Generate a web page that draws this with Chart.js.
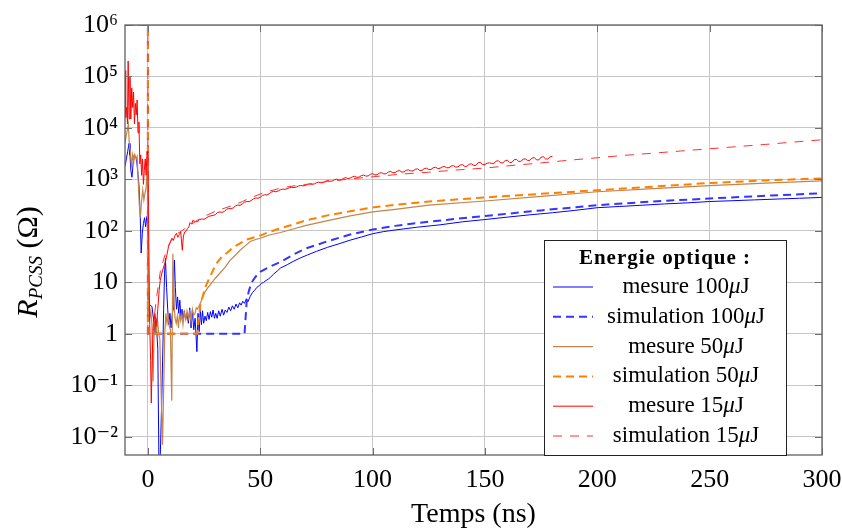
<!DOCTYPE html>
<html><head><meta charset="utf-8">
<script src="https://cdn.jsdelivr.net/npm/chart.js@4.4.1/dist/chart.umd.min.js"></script>
<style>html,body{margin:0;padding:0;background:#fff}#wrap{width:842px;height:530px}</style>
</head><body><div id="wrap"><canvas id="c" width="842" height="530"></canvas></div>
<script>
// ---------- data (time in ns, resistance in ohm) ----------
const xTickValues = [0, 50, 100, 150, 200, 250, 300];
const yTickValues = [1e-2, 1e-1, 1, 10, 100, 1e3, 1e4, 1e5, 1e6];
const yTickLabels = ['10\u207B\u00B2', '10\u207B\u00B9', '1', '10', '10\u00B2', '10\u00B3', '10\u2074', '10\u2075', '10\u2076'];
const legendTitle = 'Energie optique :';
const seriesLabels = ['mesure 100\u03BCJ', 'simulation 100\u03BCJ', 'mesure 50\u03BCJ', 'simulation 50\u03BCJ', 'mesure 15\u03BCJ', 'simulation 15\u03BCJ'];

const mesure100 = [[-10.2,1800],[-9.6,2500],[-9.0,3500],[-8.4,5000],[-8.0,3000],[-7.6,1500],[-7.1,1100],[-6.6,2000],[-6.1,3000],[-5.6,2700],[-5.1,2600],[-4.6,1500],[-4.0,800],[-3.4,180],[-3.0,37],[-2.5,90],[-2.0,140],[-1.5,180],[-1.0,120],[-0.5,190],[0.0,200],[0.3,3.6],[1.0,3.6],[1.8,3.4],[2.5,1.9],[3.1,1.0],[3.5,2.0],[4.0,1.0],[4.4,0.5],[4.9,0.003],[5.4,0.003],[6.2,0.06],[7.0,3],[7.4,15],[7.8,29],[8.3,8],[8.8,3],[9.3,1.5],[9.8,2.5],[10.3,1.3],[10.8,2.3],[11.2,3],[11.5,12],[11.8,27],[12.2,8],[12.7,3],[13.2,5.2],[13.7,2.5],[14.2,4.5],[14.7,2],[15.2,3],[15.7,1.8],[16.2,2.8],[16.8,1.9],[17.4,2.5],[18.0,1.6],[18.6,3.2],[19.2,1.3],[19.8,2.8],[20.4,1.2],[21.0,2.0],[21.8,0.45],[22.3,2.5],[22.8,1.1],[23.3,3.0],[23.8,1.5],[24.3,2.8],[24.8,1.6],[25.4,2.2],[26.0,1.8],[26.6,2.6],[27.2,1.9],[27.8,2.7],[28.4,2.1],[29.0,2.9],[29.6,2.0],[30.2,2.5],[30.8,2.0],[31.5,2.8],[32.2,2.2],[33.0,3.0],[33.7,2.3],[34.4,2.9],[35.2,2.6],[36.0,3.3],[36.8,2.8],[37.6,3.5],[38.4,3.0],[39.2,3.8],[40.0,3.2],[40.8,4.0],[41.5,3.6],[42.2,4.3],[43.0,3.9],[43.8,4.8],[44.5,4.2],[45.5,5.3],[46.5,6.3],[47.5,7.0],[48.5,8.0],[49.5,8.6],[50.5,9.5],[51.5,10],[52.5,10.8],[53.5,11.5],[54.5,12.5],[56,14.5],[57.5,16.5],[59,19],[62,22],[65,26],[68,30],[71,34],[75,40],[80,48],[85,56],[90,66],[95,76],[100,88],[105,97],[110,104],[120,118],[130,131],[140,150],[150,166],[160,185],[170,205],[180,225],[190,250],[200,282],[210,298],[220,315],[230,334],[240,350],[250,372],[260,385],[270,400],[280,415],[290,430],[300,447]];

const simulation100 = [[-10.2,1e6],[0,1e6],[0,1],[43,1],[44,4.5],[45,7],[46.3,10.2],[48,13],[50,16],[54,20],[59,25],[65,35],[70,45],[80,63],[90,85],[100,106],[110,125],[125,151],[150,195],[175,250],[200,316],[225,372],[250,427],[275,480],[300,537]];

const mesure50 = [[-10.2,5000],[-9.7,7000],[-9.2,9000],[-8.7,12000],[-8.2,4000],[-7.8,3600],[-7.3,1700],[-6.8,3000],[-6.3,2200],[-5.8,3000],[-5.3,2500],[-4.8,2800],[-4.3,900],[-3.8,300],[-3.3,190],[-2.8,400],[-2.3,620],[-1.8,400],[-1.3,540],[-0.8,700],[-0.3,1500],[0.0,1800],[0.3,3],[0.8,2],[1.3,2.8],[1.8,1.5],[2.3,0.12],[2.8,1.3],[3.3,2.2],[3.8,1.2],[4.3,1.8],[4.8,1.0],[5.3,0.8],[5.8,0.1],[6.5,0.007],[7.0,0.08],[7.5,1.0],[8.0,2.5],[8.5,1.6],[9.0,2.2],[9.5,1.4],[10.0,1.2],[10.6,0.05],[11.1,36],[11.6,4],[12.1,2],[12.6,1.6],[13.1,2.2],[13.6,1.3],[14.1,2.5],[14.6,1.8],[15.1,2.4],[15.6,1.5],[16.2,2.6],[16.8,1.9],[17.4,2.8],[18.0,2.0],[18.6,2.7],[19.2,1.7],[19.8,3.0],[20.4,2.3],[21.0,2.5],[21.5,3.2],[22.0,3.0],[23.3,3.9],[24.4,5.2],[25.5,6.6],[26.6,7.8],[27.7,8.9],[30,12],[32,15],[34.5,20],[36.6,27],[39,34],[41,42],[43,50],[45.5,62],[48,68],[50,72],[54,83],[59,93],[65,110],[70,126],[80,158],[90,195],[100,234],[110,262],[125,316],[150,380],[175,468],[200,575],[225,660],[250,760],[275,850],[300,933]];

const simulation50 = [[-10.2,1e6],[0,1e6],[0,1],[22,1],[23.3,3.6],[25.5,8],[28,14],[30.4,23],[33,32],[35.4,38],[38,48],[41,57],[44,68],[47.8,76],[50,81],[53.2,93],[59,112],[65,135],[70,158],[80,200],[90,240],[100,285],[110,320],[125,372],[150,447],[175,525],[200,617],[225,724],[250,851],[275,955],[300,1047]];

const mesure15 = [[-10.2,1.3e5],[-9.9,1.6e4],[-9.5,2.5e4],[-9.1,1.2e4],[-8.8,2.0e5],[-8.4,1.5e4],[-8.0,1.0e5],[-7.6,1.5e4],[-7.2,6e4],[-6.8,2.5e4],[-6.4,5e4],[-6.0,1.2e4],[-5.6,3e4],[-5.2,1.8e4],[-4.8,3.5e4],[-4.4,8e3],[-4.0,1.3e4],[-3.6,2e3],[-3.2,3e3],[-2.8,1.2e3],[-2.4,2.5e3],[-2.0,800],[-1.6,1.5e3],[-1.2,2.5e3],[-0.8,1.2e3],[-0.4,3.5e3],[0.0,2.5e3],[0.4,60],[0.8,1.5],[1.2,0.3],[1.5,0.045],[1.9,0.3],[2.3,1.2],[2.7,1.8],[3.1,2.5],[3.5,1.4],[3.9,1.6],[4.4,3],[5.0,7],[5.5,11],[6.2,15],[7.0,20],[7.7,24],[8.5,35],[9.2,50],[10.0,60],[10.7,72],[11.3,65],[12.0,80],[12.7,90],[13.3,75],[14.0,85],[14.6,95],[15.3,42],[15.8,80],[16.4,95],[17.0,100],[17.6,110],[18.2,120],[18.8,145],[19.5,135],
[20,160],[21,152],[22,150],[23,166],[24,170],[25,168],[26,178],[27,190],[28,196],[29,199],[30,207],[31,228],[32,233],[33,229],[34,238],[35,262],[36,272],[37,268],[38,281],[39,305],[40,318],[41,312],[42,333],[43,361],[44,372],[45,369],[46,391],[47,418],[48,437],[49,430],[50,452],[51,488],[52,503],[53,497],[54,528],[55,566],[56,588],[57,573],[58,598],[59,630],[60,648],[61,641],[62,662],[63,690],[64,703],[65,694],[66,712],[67,744],[68,762],[69,749],[70,758],[71,797],[72,818],[73,801],[74,817],[75,861],[76,884],[77,858],[78,866],[79,918],[80,952],[81,921],[82,928],[83,982],[84,1012],[85,970],[86,978],[87,1046],[88,1083],[89,1041],[90,1058],[91,1121],[92,1148],[93,1098],[94,1108],[95,1186],[96,1214],[97,1160],[98,1166],[99,1256],[100,1293],[101,1221],[102,1228],[103,1322],[104,1352],[105,1281],[106,1287],[107,1392],[108,1424],[109,1348],[110,1357],[111,1452],[112,1483],[113,1390],[114,1398],[115,1504],[116,1532],[117,1455],[118,1462],[119,1572],[120,1604],[121,1488],[122,1497],[123,1622],[124,1652],[125,1552],[126,1561],[127,1688],[128,1718],[129,1630],[130,1643],[131,1752],[132,1784],[133,1679],[134,1688],[135,1818],[136,1852],[137,1738],[138,1747],[139,1902],[140,1934],[141,1788],[142,1801],[143,1966],[144,2004],[145,1866],[146,1878],[147,2110],[148,2152],[149,1936],[150,1948],[151,2068],[152,2098],[153,2040],[154,2052],[155,2262],[156,2304],[157,2084],[158,2096],[159,2310],[160,2352],[161,2136],[162,2147],[163,2410],[164,2452],[165,2236],[166,2248],[167,2460],[168,2504],[169,2334],[170,2346],[171,2606],[172,2652],[173,2388],[174,2398],[175,2708],[176,2752],[177,2490],[178,2503],[179,2760],[180,2800]];

const simulation15 = [[-10.2,1e6],[0,1e6],[0,1],[2,1],[3,2.5],[4,5.6],[5.5,16],[7,28],[8.5,45],[10.7,72],[13,88],[15,100],[17.5,118],[20,140],[23,172],[26,200],[30,240],[34,275],[38,316],[42,370],[45,427],[49,500],[53,575],[59,676],[65,750],[70,794],[80,912],[90,1023],[100,1122],[112,1259],[125,1380],[137,1520],[150,1660],[162,1862],[175,2089],[187,2350],[200,2630],[212,2930],[225,3236],[237,3560],[250,3936],[262,4330],[275,4786],[287,5300],[300,5888]];

const seriesData = [mesure100, simulation100, mesure50, simulation50, mesure15, simulation15];

// ---------- styles ----------
const SERIF = '"Liberation Serif", "DejaVu Serif", "Times New Roman", serif';
const lineStyles = [
  {color:'#0000ff', width:1, dash:[]},
  {color:'#3535ff', width:2, dash:[8,5]},
  {color:'#c4844a', width:1.2, dash:[]},
  {color:'#ff8000', width:2, dash:[8,5]},
  {color:'#ff0000', width:1, dash:[]},
  {color:'#ff3030', width:1, dash:[9,8]}
];

const datasets = seriesData.map((s, i) => ({
  label: seriesLabels[i],
  data: s.map(p => ({x: p[0], y: p[1]})),
  borderColor: lineStyles[i].color,
  backgroundColor: lineStyles[i].color,
  borderWidth: lineStyles[i].width,
  borderDash: lineStyles[i].dash,
  pointRadius: 0,
  fill: false,
  tension: 0,
  order: seriesData.length - i
}));

function drawSegments(ctx, segs, x, y, align) {
  let total = 0;
  segs.forEach(s => { ctx.font = s.font; s.w = ctx.measureText(s.text).width; total += s.w; });
  let cx = align === 'center' ? x - total / 2 : x;
  segs.forEach(s => { ctx.font = s.font; ctx.fillText(s.text, cx, y + (s.dy || 0)); cx += s.w; });
}

const framePlugin = {
  id: 'frame',
  afterDatasetsDraw(chart) {
    const {ctx, chartArea: {left, right, top, bottom}, scales: {x, y}} = chart;
    ctx.save();
    ctx.strokeStyle = '#707070';
    ctx.lineWidth = 1;
    ctx.beginPath();
    y.ticks.forEach(t => {
      const py = Math.round(y.getPixelForValue(t.value)) + 0.5;
      ctx.moveTo(left, py); ctx.lineTo(left + 7, py);
      ctx.moveTo(right, py); ctx.lineTo(right - 7, py);
    });
    x.ticks.forEach(t => {
      const px = Math.round(x.getPixelForValue(t.value)) + 0.5;
      ctx.moveTo(px, bottom); ctx.lineTo(px, bottom - 7);
      ctx.moveTo(px, top); ctx.lineTo(px, top + 7);
    });
    ctx.stroke();
    ctx.strokeStyle = '#606060';
    ctx.lineWidth = 1.3;
    ctx.strokeRect(left, top, right - left, bottom - top);
    ctx.restore();
  }
};

const legendPlugin = {
  id: 'boxLegend',
  afterDraw(chart) {
    const {ctx, chartArea: {right, bottom}} = chart;
    const bw = 242, bh = 215;
    const bx = right - 278, by = bottom - bh;
    ctx.save();
    ctx.fillStyle = '#fff';
    ctx.fillRect(bx, by, bw, bh);
    ctx.strokeStyle = '#222';
    ctx.lineWidth = 1;
    ctx.strokeRect(bx + 0.5, by + 0.5, bw, bh);
    ctx.fillStyle = '#000';
    ctx.textBaseline = 'middle';
    ctx.font = 'bold 21px ' + SERIF;
    if ('letterSpacing' in ctx) ctx.letterSpacing = '1px';
    ctx.textAlign = 'center';
    ctx.fillText(legendTitle, bx + bw / 2, by + 19);
    if ('letterSpacing' in ctx) ctx.letterSpacing = '0px';
    ctx.textAlign = 'left';
    chart.data.datasets.forEach((ds, i) => {
      const ry = by + 47 + i * 29.8;
      ctx.save();
      ctx.strokeStyle = ds.borderColor;
      ctx.lineWidth = ds.borderWidth;
      ctx.setLineDash(ds.borderDash || []);
      ctx.beginPath();
      ctx.moveTo(bx + 9, ry); ctx.lineTo(bx + 49, ry);
      ctx.stroke();
      ctx.restore();
      const lab = ds.label;
      const k = lab.indexOf('\u03BC');
      const segs = [
        {text: lab.slice(0, k), font: '23px ' + SERIF},
        {text: '\u03BC', font: 'italic 23px ' + SERIF},
        {text: lab.slice(k + 1), font: '23px ' + SERIF}
      ];
      ctx.fillStyle = '#000';
      drawSegments(ctx, segs, bx + 142, ry, 'center');
    });
    ctx.restore();
  }
};

const yTitlePlugin = {
  id: 'yTitle',
  afterDraw(chart) {
    const {ctx, chartArea: {top, bottom}} = chart;
    ctx.save();
    ctx.translate(37, (top + bottom) / 2 + 22);
    ctx.rotate(-Math.PI / 2);
    ctx.fillStyle = '#000';
    ctx.textBaseline = 'alphabetic';
    drawSegments(ctx, [
      {text: 'R', font: 'italic 30px ' + SERIF},
      {text: 'PCSS', font: 'italic 19px ' + SERIF, dy: 5},
      {text: ' (\u03A9)', font: '30px ' + SERIF}
    ], 0, 0, 'center');
    ctx.restore();
  }
};

new Chart(document.getElementById('c'), {
  type: 'line',
  data: {datasets},
  options: {
    responsive: false,
    animation: false,
    devicePixelRatio: 1,
    layout: {padding: {top: 25, right: 20, left: 0, bottom: 0}},
    plugins: {legend: {display: false}, tooltip: {enabled: false}},
    scales: {
      x: {
        type: 'linear', min: -10.2, max: 300,
        afterBuildTicks: s => { s.ticks = xTickValues.map(v => ({value: v})); },
        afterFit: s => { s.height = 75; s.paddingLeft = 0; s.paddingRight = 0; },
        grid: {color: '#c6c6c6', lineWidth: 1, drawTicks: false},
        border: {display: false},
        ticks: {padding: 10, color: '#000', font: {family: SERIF, size: 26}, maxRotation: 0, autoSkip: false,
          callback: v => String(v)},
        title: {display: true, text: 'Temps (ns)', color: '#000', font: {family: SERIF, size: 28, lineHeight: 1.0}, padding: {top: 0, bottom: 1}}
      },
      y: {
        type: 'logarithmic', min: Math.pow(10, -2.355), max: 1e6,
        afterBuildTicks: s => { s.ticks = yTickValues.map(v => ({value: v})); },
        afterFit: s => { s.width = 125; s.paddingTop = 0; s.paddingBottom = 0; },
        grid: {color: '#c6c6c6', lineWidth: 1, drawTicks: false},
        border: {display: false},
        ticks: {padding: 7, color: '#000', font: {family: SERIF, size: 26}, autoSkip: false,
          callback: (v, i) => yTickLabels[i]}
      }
    }
  },
  plugins: [framePlugin, legendPlugin, yTitlePlugin]
});
</script>
</body></html>
